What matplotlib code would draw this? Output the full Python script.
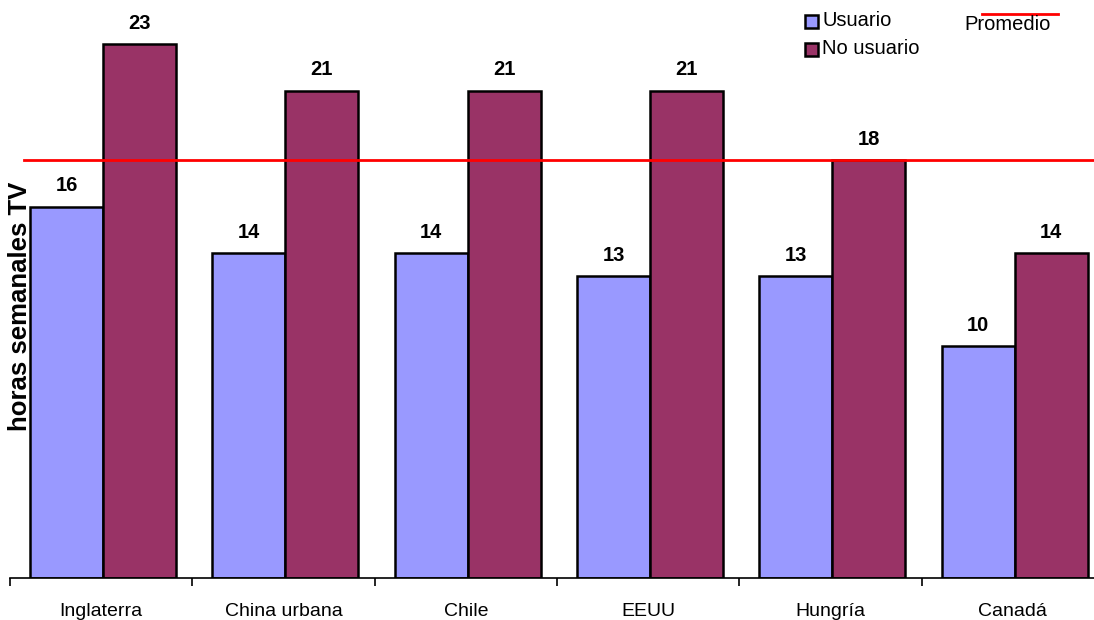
import numpy as np
import matplotlib.pyplot as plt
from matplotlib.patches import Rectangle
from matplotlib.lines import Line2D

plt.rcParams['font.family'] = ['Liberation Sans', 'DejaVu Sans']

# Data
paises = ['Inglaterra', 'China urbana', 'Chile', 'EEUU', 'Hungría', 'Canadá']
usuario = [16, 14, 14, 13, 13, 10]
no_usuario = [23, 21, 21, 21, 18, 14]
promedio = 18

azul = '#9999FF'
granate = '#993366'

W, H = 1094, 620
fig = plt.figure(figsize=(W / 100, H / 100), dpi=100)
# axes run from x=10 px to past the right edge, bottom at y=578 px
ax = fig.add_axes([10 / W, 42 / H, 1094 / W, 578 / H])

x = np.arange(len(paises))
w = 0.4
ax.bar(x - w / 2 + 0.01, usuario, w, color=azul, edgecolor='black', linewidth=1.8, zorder=2)
ax.bar(x + w / 2 + 0.01, no_usuario, w, color=granate, edgecolor='black', linewidth=1.8, zorder=2)

ax.set_xlim(-0.5, 5.5)
ax.set_ylim(0, 24.9)

# average line over the bars
ax.plot([-0.423, 5.5], [promedio, promedio], color='red', linewidth=2, zorder=3,
        clip_on=False)

for xi, v in zip(x - w / 2 + 0.01, usuario):
    ax.annotate(str(v), (xi, v), xytext=(0, 11), textcoords='offset points',
                ha='center', va='baseline', fontsize=14.5, fontweight='bold')
for xi, v in zip(x + w / 2 + 0.01, no_usuario):
    ax.annotate(str(v), (xi, v), xytext=(0, 11), textcoords='offset points',
                ha='center', va='baseline', fontsize=14.5, fontweight='bold')

ax.set_xticks(np.arange(-0.5, 6, 1))
ax.set_xticklabels([])
ax.set_xticks(x, minor=True)
ax.set_xticklabels(paises, minor=True, fontsize=14)
ax.tick_params(axis='x', which='major', length=6, width=1.2, direction='out')
ax.tick_params(axis='x', which='minor', length=0, pad=18)
ax.set_yticks([])

for s in ['left', 'right', 'top']:
    ax.spines[s].set_visible(False)
ax.spines['bottom'].set_linewidth(1.2)

fig.text(20 / W, 1 - 306 / H, 'horas semanales TV', rotation=90, ha='center',
         va='center', fontsize=18.5, fontweight='bold')

# legend drawn by hand in figure pixels
def px(xp, yp):
    return xp / W, 1 - yp / H

for yc, col, lab in [(21, azul, 'Usuario'), (49, granate, 'No usuario')]:
    x0, y0 = px(805, yc + 7)
    fig.patches.append(Rectangle((x0, y0), 13 / W, 13 / H, transform=fig.transFigure,
                                 facecolor=col, edgecolor='black', linewidth=1.8))
    tx, ty = px(822, yc)
    fig.text(tx, ty, lab, ha='left', va='center', fontsize=14.5)

lx0, ly = px(982, 14)
lx1, _ = px(1058, 14)
fig.lines.append(Line2D([lx0, lx1], [ly, ly], transform=fig.transFigure,
                        color='red', linewidth=2))
tx, ty = px(964, 25)
fig.text(tx, ty, 'Promedio', ha='left', va='center', fontsize=14.5)

fig.savefig('out.png', dpi=100)
